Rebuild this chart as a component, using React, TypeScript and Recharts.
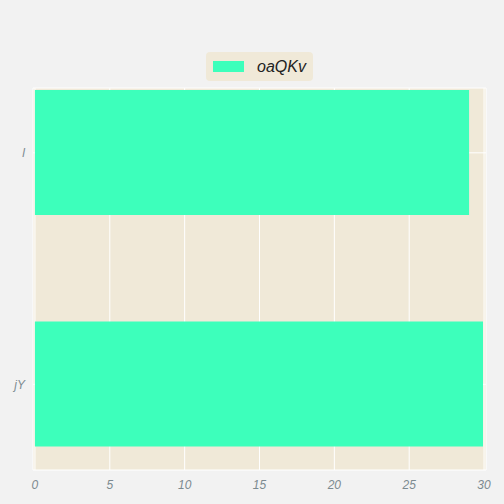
import React from "react";
import {
  BarChart,
  Bar,
  XAxis,
  YAxis,
  CartesianGrid,
  Legend,
} from "recharts";

const categories = ["l", "jY"];
const values = [29.0, 29.93];
const xTicks = [0, 5, 10, 15, 20, 25, 30];
const seriesName = "oaQKv";

const data = categories.map((c, i) => ({ idx: i, name: c, value: values[i] }));

const FONT = "'Liberation Sans', Arial, sans-serif";
const BAR = "#3dffbb";
const PANEL = "#f0e9d8";
const TICK = "#7c8a90";

function LegendBox() {
  return (
    <div style={{ display: "flex", justifyContent: "center" }}>
      <div
        style={{
          display: "flex",
          alignItems: "center",
          background: PANEL,
          borderRadius: 4,
          padding: "0 7px",
          height: 29,
          fontFamily: FONT,
          fontStyle: "italic",
          fontSize: 16,
          color: "#222",
        }}
      >
        <span style={{ width: 31, height: 11, background: BAR, display: "inline-block", marginRight: 13 }} />
        <span>{seriesName}</span>
      </div>
    </div>
  );
}

export default function App() {
  return (
    <div style={{ position: "absolute", left: 0, top: 0, width: 504, height: 504, background: "#f2f2f2" }}>
      <BarChart
        width={504}
        height={504}
        data={data}
        layout="vertical"
        margin={{ top: 59, right: 18, bottom: 0, left: 0 }}
      >
        <CartesianGrid stroke="#ffffff" strokeWidth={1} fill={PANEL} />
        <XAxis
          type="number"
          domain={[-0.13, 30.13]}
          ticks={xTicks}
          allowDataOverflow
          tickLine={false}
          axisLine={false}
          height={34}
          tickMargin={4}
          tick={{ fontSize: 12, fill: TICK, fontFamily: FONT, fontStyle: "italic" }}
        />
        <YAxis
          type="number"
          dataKey="idx"
          domain={[-0.28, 1.37]}
          ticks={[0, 1]}
          allowDataOverflow
          tickFormatter={(v: number) => categories[v] ?? ""}
          tickLine={false}
          axisLine={false}
          width={33}
          tick={{ fontSize: 12, fill: TICK, fontFamily: FONT, fontStyle: "italic" }}
        />
        <Legend
          verticalAlign="top"
          align="center"
          height={29}
          content={() => <LegendBox />}
          wrapperStyle={{ top: 52, left: 33, width: 453 }}
        />
        <Bar dataKey="value" name={seriesName} fill={BAR} barSize={125} isAnimationActive={false} />
      </BarChart>
    </div>
  );
}
